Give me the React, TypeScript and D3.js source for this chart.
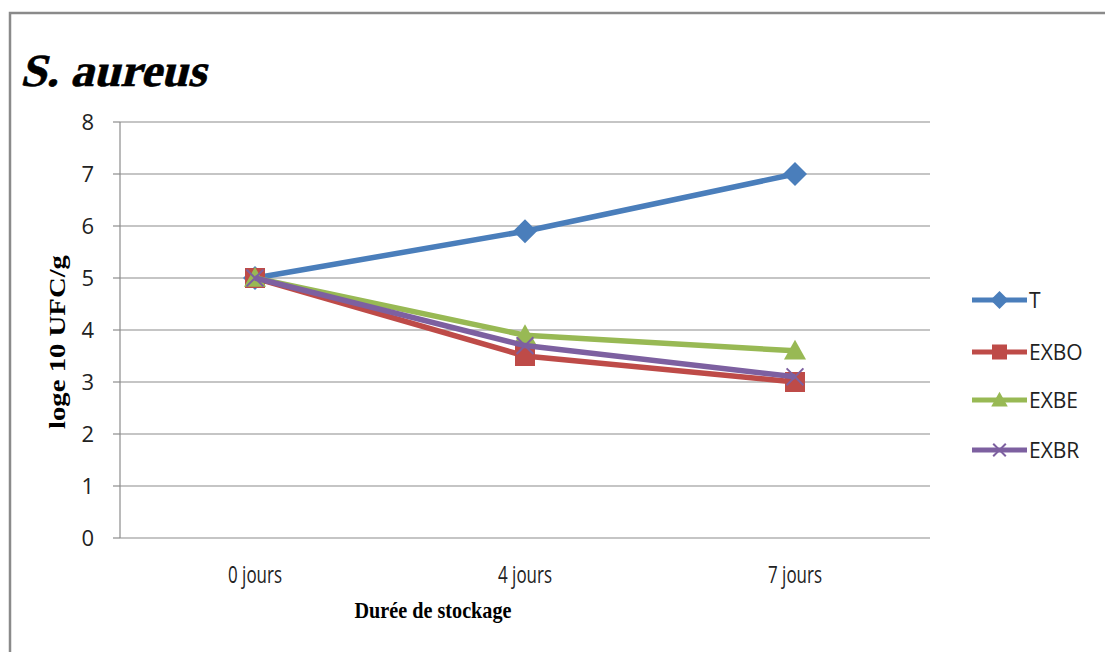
import React from "react";
import * as d3 from "d3";

const categories = ["0 jours", "4 jours", "7 jours"];
const seriesNames = ["T", "EXBO", "EXBE", "EXBR"];
const valuesT = [5, 5.9, 7];
const valuesEXBO = [5, 3.5, 3.0];
const valuesEXBE = [5, 3.9, 3.6];
const valuesEXBR = [5, 3.7, 3.1];
const yTicks = [0, 1, 2, 3, 4, 5, 6, 7, 8];
const colors = ["#4A7EBB", "#BE4B48", "#98B954", "#7D60A0"];
const markers = ["diamond", "square", "triangle", "x"];

const W = 1105;
const H = 652;
const plot = { left: 120, right: 930, top: 122, bottom: 538 };

function Marker({ type, x, y, color, size }: { type: string; x: number; y: number; color: string; size: number }) {
  if (type === "diamond") {
    const s = size * 0.6;
    return <path d={`M${x},${y - s}L${x + s},${y}L${x},${y + s}L${x - s},${y}Z`} fill={color} />;
  }
  if (type === "square") {
    const s = size * 0.5;
    return <rect x={x - s} y={y - s} width={2 * s} height={2 * s} fill={color} />;
  }
  if (type === "triangle") {
    const s = size * 0.55;
    return <path d={`M${x},${y - s}L${x + s},${y + s * 0.8}L${x - s},${y + s * 0.8}Z`} fill={color} />;
  }
  const s = size * 0.42;
  return (
    <path
      d={`M${x - s},${y - s}L${x + s},${y + s}M${x - s},${y + s}L${x + s},${y - s}`}
      stroke={color}
      strokeWidth={2}
      fill="none"
    />
  );
}

const sans = "'Open Sans', sans-serif";
const serif = "'Liberation Serif', 'Times New Roman', serif";

export default function App() {
  const x = d3.scaleBand<string>().domain(categories).range([plot.left, plot.right]);
  const y = d3.scaleLinear().domain([0, 8]).range([plot.bottom, plot.top]);
  const cx = (c: string) => (x(c) as number) + x.bandwidth() / 2;
  const allSeries = [valuesT, valuesEXBO, valuesEXBE, valuesEXBR];
  const line = d3
    .line<number>()
    .x((_, i) => cx(categories[i]))
    .y((d) => y(d));

  const legendY = [300, 352, 400, 450];

  return (
    <svg
      width={W}
      height={H}
      style={{ position: "absolute", left: 0, top: 0, background: "#fff" }}
    >
      {/* outer frame */}
      <rect x={10} y={13} width={W + 20} height={H + 20} fill="#fff" stroke="#8a8a8a" strokeWidth={2.5} />

      {/* title: bold serif slanted by hand */}
      <g transform="translate(20, 86) skewX(-14)">
        <text
          x={0}
          y={0}
          fontFamily={serif}
          fontWeight="bold"
          fontSize={46}
          textLength={186}
          lengthAdjust="spacingAndGlyphs"
          fill="#000"
          stroke="#000"
          strokeWidth={0.6}
        >
          S. aureus
        </text>
      </g>

      {/* gridlines */}
      {yTicks.map((t) => (
        <line key={t} x1={plot.left} x2={plot.right} y1={y(t)} y2={y(t)} stroke="#8c8c8c" strokeWidth={1.2} />
      ))}
      {/* y axis */}
      <line x1={plot.left} x2={plot.left} y1={plot.top} y2={plot.bottom} stroke="#8c8c8c" strokeWidth={1.2} />
      {yTicks.map((t) => (
        <g key={"yt" + t}>
          <line x1={plot.left - 7} x2={plot.left} y1={y(t)} y2={y(t)} stroke="#8c8c8c" strokeWidth={1.2} />
          <text
            x={plot.left - 26}
            y={y(t)}
            dy="0.36em"
            textAnchor="end"
            fontFamily={sans}
            fontSize={22}
            fill="#222"
          >
            {t}
          </text>
        </g>
      ))}
      {/* x axis */}
      {categories.map((c) => (
        <text
          key={c}
          x={cx(c) - 27}
          y={plot.bottom + 45}
          fontFamily={sans}
          fontSize={23}
          textLength={54}
          lengthAdjust="spacingAndGlyphs"
          fill="#222"
        >
          {c}
        </text>
      ))}

      <text
        x={433}
        y={618}
        textAnchor="middle"
        fontFamily={serif}
        fontWeight="bold"
        fontSize={24}
        textLength={157}
        lengthAdjust="spacingAndGlyphs"
        fill="#000"
      >
        Durée de stockage
      </text>
      <text
        transform={`translate(65, 342) rotate(-90)`}
        x={-87}
        fontFamily={serif}
        fontWeight="bold"
        fontSize={23}
        textLength={174}
        lengthAdjust="spacingAndGlyphs"
        fill="#000"
      >
        loge 10 UFC/g
      </text>

      {/* series */}
      {allSeries.map((vals, si) => (
        <g key={seriesNames[si]}>
          <path d={line(vals) || ""} fill="none" stroke={colors[si]} strokeWidth={5.5} strokeLinejoin="round" />
          {vals.map((v, i) => (
            <Marker key={i} type={markers[si]} x={cx(categories[i])} y={y(v)} color={colors[si]} size={20} />
          ))}
        </g>
      ))}

      {/* legend */}
      {seriesNames.map((n, si) => (
        <g key={"lg" + n}>
          <line x1={972} x2={1027} y1={legendY[si]} y2={legendY[si]} stroke={colors[si]} strokeWidth={5} />
          <Marker type={markers[si]} x={999.5} y={legendY[si]} color={colors[si]} size={15} />
          <text
            x={1029}
            y={legendY[si]}
            dy="0.36em"
            fontFamily={sans}
            fontSize={21}
            fill="#222"
          >
            {n}
          </text>
        </g>
      ))}
    </svg>
  );
}
